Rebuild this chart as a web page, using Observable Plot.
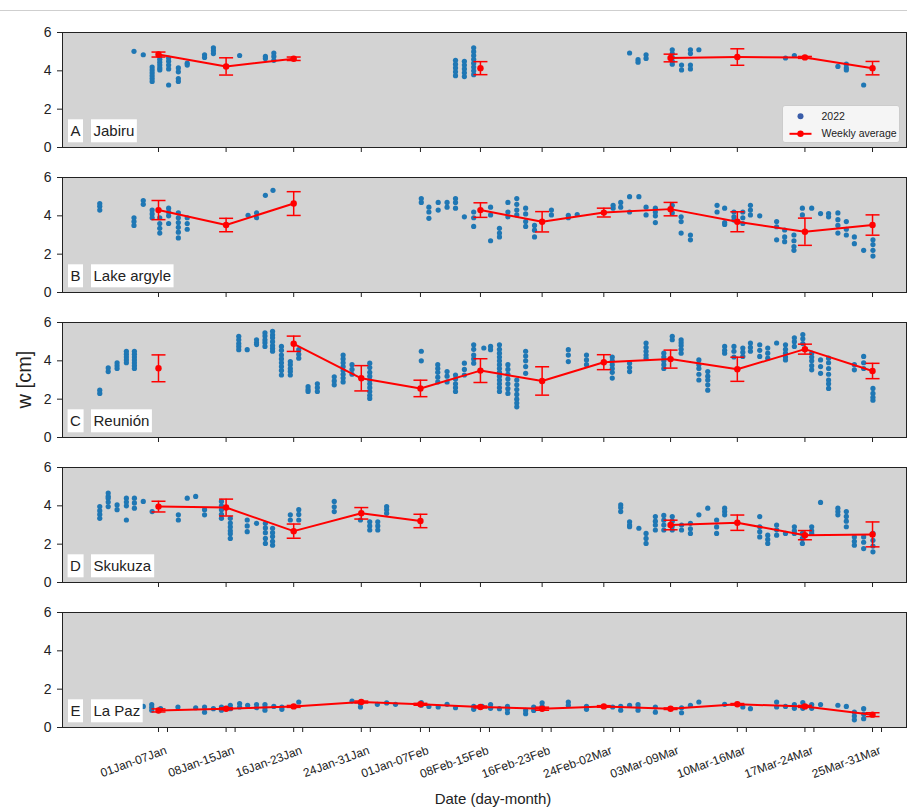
<!DOCTYPE html>
<html><head><meta charset="utf-8">
<script src="https://cdn.jsdelivr.net/npm/d3@7"></script>
<script src="https://cdn.jsdelivr.net/npm/@observablehq/plot@0.6"></script>
<style>
body{margin:0;background:#fff;font-family:"Liberation Sans",Arial,sans-serif;}
#top{height:10px;border-bottom:1px solid #cfcfcf;}
#chart svg{display:block;}
</style></head><body>
<div id="top"></div>
<div id="chart"></div>
<script>
// ---- data ----
const sites = ["Jabiru", "Lake argyle", "Reunión", "Skukuza", "La Paz"];
const letters = ["A", "B", "C", "D", "E"];
const weekLabels = ["01Jan-07Jan", "08Jan-15Jan", "16Jan-23Jan", "24Jan-31Jan", "01Jan-07Feb", "08Feb-15Feb",
  "16Feb-23Feb", "24Feb-02Mar", "03Mar-09Mar", "10Mar-16Mar", "17Mar-24Mar", "25Mar-31Mar"];
// day of year (position of each weekly tick)
const weekDays = [7, 15, 23, 31, 38, 45.1, 52.4, 59.7, 67.6, 75.5, 83.5, 91.5];
const yTicks = [0, 2, 4, 6];

// scatter: [day, [w values]]
const scatterJabiru = [[4.1,[5.02]],[5.2,[4.84]],[6.25,[4.2,4.05,3.9,3.75,3.6,3.45]],[7.15,[4.75,4.6,4.45,4.3,4.15,4.05]],
  [8.2,[4.67,4.5,4.3,4.1,3.26]],[9.35,[4.15,3.95,3.6,3.45]],[10.4,[4.4,4.3]],[12.45,[4.84,4.7]],[13.5,[5.2,5.05,4.9]],
  [16.6,[4.8]],[19.65,[4.75,4.65]],[20.65,[4.93,4.75,4.55]],[42.15,[4.55,4.35,4.15,3.95,3.75]],[43.2,[4.5,4.3,4.1,3.9,3.7]],
  [44.3,[5.2,5.0,4.8,4.6,4.4,4.2,4.0,3.8]],[62.75,[4.93]],[63.75,[4.58,4.45]],[64.7,[4.84,4.65]],[67.8,[5.1,4.9,4.7,4.5,4.35]],
  [68.9,[4.3,4.05]],[69.95,[5.1,4.9,4.3,4.1]],[70.95,[5.1]],[81.2,[4.67]],[82.25,[4.8]],[87.4,[4.23]],[88.4,[4.35,4.15,4.05]],[90.45,[3.26]]];
const scatterLakeArgyle = [[0.05,[4.64,4.5,4.3]],[4.1,[3.9,3.7,3.5]],[5.2,[4.8,4.6]],[6.25,[4.3,4.1,3.9]],[7.15,[3.9,3.6,3.35,3.1]],
  [8.2,[4.4,4.2,4.0,3.6]],[9.35,[4.15,3.9,3.65,3.4,3.15,2.85]],[10.4,[3.9,3.6,3.3]],[17.6,[4.03]],[18.6,[4.15,3.9]],[19.65,[5.07]],
  [20.55,[5.33]],[38.1,[4.9,4.7]],[39.0,[4.45,4.2,3.87]],[40.1,[4.7,4.3]],[41.15,[4.7,4.45]],[42.15,[4.9,4.7,4.4]],[43.2,[3.95]],
  [44.3,[4.2,3.9,3.45]],[46.3,[4.45,4.05,2.7]],[47.35,[3.35,3.1,2.9]],[48.35,[4.7,4.2,3.95]],[49.4,[4.9,4.6,4.3,4.05]],
  [50.45,[4.4,4.1,3.7,3.45]],[51.5,[3.5,3.25,2.9]],[53.5,[4.3,4.05]],[55.5,[4.03,3.9]],[56.55,[4.07]],[60.8,[4.55,4.4]],
  [61.7,[4.7,4.45]],[62.75,[5.0,4.2]],[63.85,[5.0]],[64.7,[4.45,4.05]],[65.8,[4.4,4.2,4.0,3.65]],[67.8,[4.55,4.15]],
  [68.85,[3.95,3.7,3.1]],[69.95,[3.0,2.75]],[73.1,[4.55,4.2]],[74.0,[4.4,3.65,3.55]],[75.1,[4.2,3.95,3.78]],[76.15,[4.2,3.9,3.6]],
  [77.05,[4.55,4.3,4.05]],[78.15,[4.0]],[80.15,[3.7,3.43,2.75]],[81.1,[3.26,2.9,2.65]],[82.2,[3.0,2.7,2.4,2.2]],[83.2,[4.4,4.05]],
  [84.3,[4.4]],[85.35,[4.12]],[86.3,[4.12,3.95]],[87.4,[4.15,3.8,3.5,3.1]],[88.4,[3.7,3.3,3.0]],[89.35,[2.9,2.55]],[90.45,[2.2]],
  [91.55,[2.75,2.5,2.2,1.9]]];
const scatterReunion = [[0.05,[2.47,2.3]],[1.05,[3.63,3.44]],[2.1,[3.9,3.75,3.6]],[3.2,[4.5,4.35,4.2,4.05,3.9]],
  [4.15,[4.5,4.35,4.2,4.05,3.9,3.75,3.6]],[16.5,[5.28,5.1,4.9,4.75,4.58]],[17.5,[4.58]],[18.6,[5.1,4.95,4.85]],
  [19.6,[5.46,5.3,5.1,4.95,4.75]],[20.5,[5.54,5.35,5.2,5.0,4.8,4.65,4.5]],[21.55,[4.75,4.55,4.3,4.1,3.9,3.7,3.5,3.26]],
  [22.6,[3.96,3.8,3.6,3.45,3.26]],[23.6,[4.58,4.35,4.14]],[24.7,[2.65,2.5,2.4]],[25.8,[2.8,2.6,2.4]],[27.8,[3.17,2.95,2.75]],
  [28.85,[4.3,4.1,3.9,3.7,3.5,3.3,3.1,2.9]],[29.9,[3.8,3.55,3.3]],[32.0,[3.88,3.65,3.4,3.2,3.0,2.8,2.6,2.4,2.2,2.04]],
  [38.1,[4.5,4.0]],[40.05,[3.8,3.6,3.4,3.15,2.9]],[41.15,[3.44,3.2,2.9]],[42.15,[3.26,3.05,2.8,2.6,2.4]],[43.2,[3.88,3.55,3.26]],
  [44.3,[4.84,4.6,4.3,4.1,3.88]],[45.5,[4.67]],[46.3,[4.75,4.58]],[47.35,[4.84,4.6,4.4,4.2,4.0,3.8,3.6,3.4,3.2,3.0,2.8,2.6,2.4]],
  [48.35,[3.8,3.55,3.3,3.05,2.8,2.55,2.3]],[49.4,[3.0,2.75,2.5,2.25,2.0,1.8,1.6]],[50.45,[4.5,4.25,4.0,3.7,3.35]],
  [55.5,[4.58,4.3,3.96]],[57.65,[4.3,4.05,3.8]],[60.7,[4.2,4.0,3.8,3.6,3.4,3.1]],[62.75,[3.88,3.65,3.44]],
  [64.7,[4.93,4.7,4.5,4.3,4.14]],[66.8,[4.4,4.2,4.0,3.8,3.6]],[67.8,[5.28,5.1]],[68.85,[5.1,4.95,4.8,4.6,4.4]],
  [70.95,[4.05,3.8,3.6,3.3,3.0]],[72.0,[3.44,3.2,3.0,2.75,2.47]],[74.0,[4.75,4.55,4.4]],[75.1,[4.75,4.5,4.2]],
  [76.15,[4.67,4.45,4.23]],[77.05,[4.93,4.7,4.5]],[78.15,[4.84,4.55,4.23]],[79.1,[4.67,4.4,4.14]],[80.15,[4.93]],
  [81.2,[4.84,4.6,4.4,4.2,4.05]],[82.25,[5.2,5.0,4.75]],[83.25,[5.37,5.15,4.9]],[84.3,[4.4,4.2,4.0,3.75,3.53]],
  [85.35,[4.05,3.7,3.35]],[86.3,[4.14,3.9,3.6,3.3,3.0,2.8,2.56]],[89.35,[3.8,3.53]],[90.45,[4.23,3.9,3.6]],[91.55,[2.56,2.3,2.1,1.95]]];
const scatterSkukuza = [[0.05,[3.96,3.75,3.55,3.35]],[1.05,[4.67,4.5,4.4,4.2,3.96]],[2.1,[4.05,3.8]],[3.2,[4.4,4.2,4.0,3.26]],
  [4.15,[4.4,4.15,3.88]],[5.2,[4.23]],[6.25,[3.7]],[9.35,[3.53,3.26]],[10.4,[4.4]],[11.4,[4.49]],[12.45,[3.8,3.53]],
  [14.45,[4.23,4.0,3.8,3.55,3.35]],[15.5,[3.35,3.1,2.9,2.7,2.55,2.3]],[17.5,[3.26,2.95,2.65]],[18.6,[3.09]],
  [19.65,[3.09,2.85,2.6,2.3,2.04]],[20.5,[2.83,2.6,2.4,2.15,1.95]],[22.6,[3.53,3.26]],[23.6,[3.8,3.55,3.26]],
  [27.8,[4.23,3.95,3.7]],[30.9,[3.26]],[32.0,[3.17,2.95,2.74]],[32.95,[3.17,2.95,2.74]],[34.0,[3.96,3.8,3.61]],
  [61.7,[4.05,3.9,3.7]],[62.75,[3.17,3.0,2.91]],[63.85,[2.83]],[64.7,[2.56,2.3,2.04]],[65.8,[3.44,3.2,3.0,2.74]],
  [66.8,[3.5,3.25,3.0,2.74]],[67.8,[3.44,3.2,2.95,2.74]],[68.9,[3.0,2.74]],[69.95,[3.09,2.8,2.56]],[70.95,[3.53]],[72.0,[3.88]],
  [73.05,[3.26,2.9,2.56]],[74.0,[3.88,3.7,3.53]],[78.15,[3.44,2.91,2.65,2.38]],[79.1,[2.47,2.25,2.04]],[80.15,[3.0,2.75,2.47]],
  [81.2,[2.56]],[82.25,[2.91,2.7,2.56]],[83.2,[2.56,2.3,2.04]],[84.3,[2.91,2.7,2.56]],[85.35,[4.18]],[87.4,[3.88,3.7,3.53]],
  [88.4,[3.7,3.45,3.2,2.91]],[89.35,[2.38,2.15,1.95]],[90.45,[2.38,2.1,1.77]],[91.55,[2.56,2.2,1.9,1.6]]];
const scatterLaPaz = [[5.2,[1.1]],[6.2,[1.2,1.05,0.9]],[7.25,[0.98]],[9.3,[1.07]],[11.4,[1.03]],[12.45,[1.07,0.8]],[13.5,[0.98]],
  [14.45,[1.07,0.9]],[15.5,[1.16,0.98]],[16.6,[1.25,1.07]],[17.55,[1.16]],[18.6,[1.2,1.03]],[19.6,[1.2,1.05,0.9]],[20.65,[1.1]],
  [21.6,[1.07,0.95]],[23.6,[1.33]],[29.9,[1.38]],[30.9,[1.25,1.07]],[32.9,[1.21]],[34.0,[1.28]],[35.05,[1.21]],[38.1,[1.3,1.16]],
  [39.0,[1.1]],[40.1,[1.07]],[41.15,[1.21]],[42.15,[1.03]],[44.3,[1.1,0.95]],[45.3,[1.1]],[46.3,[1.2,1.0]],[47.35,[0.98]],
  [48.3,[1.1,0.95,0.77]],[50.45,[0.89,0.72]],[51.4,[1.07,0.89]],[52.4,[1.29,1.1,0.98]],[55.5,[1.33,1.16]],[57.65,[1.1,0.95]],
  [60.75,[1.07]],[61.7,[1.1,0.9]],[62.75,[1.16]],[63.75,[1.2,1.05,0.9]],[65.8,[1.07,0.8]],[68.9,[1.03,0.77]],[69.95,[1.16]],
  [70.95,[1.33]],[74.0,[1.21]],[76.15,[1.07]],[77.05,[0.98]],[80.15,[1.33,1.07]],[81.2,[1.1]],[82.25,[1.2,1.0]],[83.25,[1.3,1.0]],
  [84.3,[1.2,1.0]],[85.35,[1.2]],[87.4,[1.16]],[88.4,[1.1]],[89.35,[0.8,0.6,0.4]],[90.45,[0.98,0.7,0.46]]];

// weekly averages and standard deviations (null = no data that week)
const meanJabiru = [4.85, 4.23, 4.63, null, null, 4.14, null, null, 4.67, 4.72, 4.70, 4.14];
const sdJabiru   = [0.13, 0.45, 0.09, null, null, 0.34, null, null, 0.20, 0.43, 0.05, 0.35];
const meanLakeArgyle = [4.30, 3.52, 4.64, null, null, 4.30, 3.69, 4.17, 4.35, 3.69, 3.17, 3.52];
const sdLakeArgyle   = [0.50, 0.35, 0.62, null, null, 0.38, 0.53, 0.23, 0.35, 0.52, 0.71, 0.53];
const meanReunion = [3.61, null, 4.89, 3.09, 2.56, 3.49, 2.95, 3.93, 4.09, 3.56, 4.61, 3.47];
const sdReunion   = [0.70, null, 0.40, 0.66, 0.43, 0.62, 0.74, 0.39, 0.47, 0.63, 0.26, 0.40];
const meanSkukuza = [3.96, 3.91, 2.68, 3.61, 3.21, null, null, null, 3.00, 3.12, 2.47, 2.51];
const sdSkukuza   = [0.28, 0.44, 0.37, 0.30, 0.35, null, null, null, 0.25, 0.40, 0.24, 0.65];
const meanLaPaz = [0.89, 0.98, 1.10, 1.33, 1.21, 1.07, 0.98, 1.10, 0.98, 1.21, 1.10, 0.67];
const sdLaPaz   = [0.08, 0.05, 0.05, 0.05, 0.05, 0.05, 0.08, 0.04, 0.04, 0.04, 0.05, 0.10];

// ---- tables ----
const scatterBySite = [scatterJabiru, scatterLakeArgyle, scatterReunion, scatterSkukuza, scatterLaPaz];
const meanBySite = [meanJabiru, meanLakeArgyle, meanReunion, meanSkukuza, meanLaPaz];
const sdBySite = [sdJabiru, sdLakeArgyle, sdReunion, sdSkukuza, sdLaPaz];

const points = sites.flatMap((site, s) =>
  scatterBySite[s].flatMap(([day, ws]) => ws.map(w => ({site, day, w}))));
const weekly = sites.flatMap((site, s) =>
  weekDays.map((day, i) => ({site, day, mean: meanBySite[s][i], sd: sdBySite[s][i]})));
const weeklyDefined = weekly.filter(d => d.mean != null);
const labelRows = sites.map((site, i) => ({site, letter: letters[i]}));
const labelOf = new Map(weekDays.map((d, i) => [d, weekLabels[i]]));

const cap = {draw(ctx, size) { const r = Math.sqrt(size / Math.PI); ctx.moveTo(-r, 0); ctx.lineTo(r, 0); }};

const W = 907, H = 798, mT = 21, mB = 82, mL = 62, mR = 1;
const chart = Plot.plot({
  width: W, height: H,
  marginTop: mT, marginBottom: mB, marginLeft: mL, marginRight: mR,
  style: {fontFamily: "'Liberation Sans', Arial, sans-serif", fontSize: "12px", color: "#222", background: "white"},
  x: {domain: [-4.36, 95.52]},
  y: {domain: [0, 6]},
  fy: {domain: sites, paddingInner: 0.207, paddingOuter: 0, axis: null, label: null},
  marks: [
    Plot.frame({fill: "#d3d3d3", stroke: "#222", ariaDescription: "frame"}),
    Plot.dot(points, {x: "day", y: "w", fy: "site", r: 2.6, fill: "#1f77b4"}),
    Plot.line(weekly, {x: "day", y: "mean", fy: "site", z: "site", stroke: "red", strokeWidth: 2}),
    Plot.ruleX(weeklyDefined, {x: "day", y1: d => d.mean - d.sd, y2: d => d.mean + d.sd, fy: "site", stroke: "red", strokeWidth: 1.5}),
    Plot.dot(weeklyDefined, {x: "day", y: d => d.mean + d.sd, fy: "site", symbol: cap, r: 7, stroke: "red", strokeWidth: 1.5, fill: "none"}),
    Plot.dot(weeklyDefined, {x: "day", y: d => d.mean - d.sd, fy: "site", symbol: cap, r: 7, stroke: "red", strokeWidth: 1.5, fill: "none"}),
    Plot.dot(weeklyDefined, {x: "day", y: "mean", fy: "site", r: 3.2, fill: "red"}),
    Plot.axisY({ticks: yTicks, tickFormat: d => String(d), tickSize: 5, tickPadding: 6, fontSize: 14, label: null}),
    Plot.axisX({ticks: weekDays, tickSize: 5, facetAnchor: null, fill: "none", label: null}),
    Plot.axisX({ticks: weekDays, tickSize: 5, tickPadding: 21, tickRotate: -20, textAnchor: "end", lineAnchor: "bottom",
      dx: 9, tickFormat: d => labelOf.get(d), fontSize: 12, label: null}),
    Plot.text(labelRows, {fy: "site", text: "letter", frameAnchor: "bottom-left", dx: 13, dy: -16,
      textAnchor: "middle", lineAnchor: "middle", fontSize: 15, fill: "#222", ariaDescription: "panel-label"}),
    Plot.text(labelRows, {fy: "site", text: "site", frameAnchor: "bottom-left", dx: 31, dy: -16,
      textAnchor: "start", lineAnchor: "middle", fontSize: 15, fill: "#222", ariaDescription: "panel-label"})
  ]
});
document.getElementById("chart").append(chart);

const svg = d3.select(chart);
// white boxes behind the panel labels
svg.selectAll('[aria-description="panel-label"] text').each(function() {
  const b = this.getBBox();
  const cy = b.y + b.height / 2;
  const node = this;
  d3.select(this.parentNode).insert("rect", () => node)
    .attr("transform", this.getAttribute("transform"))
    .attr("x", b.x - 2.5).attr("y", cy - 11.5)
    .attr("width", b.width + 5).attr("height", 23).attr("fill", "white");
});

// legend inside panel A
const sr = chart.getBoundingClientRect();
const fr = chart.querySelector('[aria-description="frame"] rect').getBoundingClientRect();
const R = fr.right - sr.left, B = fr.bottom - sr.top;
const lg = svg.append("g").attr("font-family", "'Liberation Sans', Arial, sans-serif").attr("font-size", 10.5)
  .attr("fill", "#222").attr("text-anchor", "start");
lg.append("rect").attr("x", R - 124).attr("y", B - 42).attr("width", 117).attr("height", 37).attr("rx", 2.5)
  .attr("fill", "#fafafa").attr("fill-opacity", 0.85).attr("stroke", "#cccccc");
lg.append("circle").attr("cx", R - 106).attr("cy", B - 31.3).attr("r", 3).attr("fill", "#3a5da9");
lg.append("text").attr("x", R - 85).attr("y", B - 31.3).attr("dy", "0.35em").text("2022");
lg.append("line").attr("x1", R - 117).attr("x2", R - 95).attr("y1", B - 13.7).attr("y2", B - 13.7).attr("stroke", "red").attr("stroke-width", 2);
lg.append("circle").attr("cx", R - 106).attr("cy", B - 13.7).attr("r", 3.2).attr("fill", "red");
lg.append("text").attr("x", R - 85).attr("y", B - 13.7).attr("dy", "0.35em").text("Weekly average");

// shared axis titles
svg.append("text").attr("transform", `translate(24,${(mT + H - mB) / 2}) rotate(-90)`)
  .attr("text-anchor", "middle").attr("dy", "0.35em").attr("font-size", 20).attr("fill", "#222").text("w [cm]");
svg.append("text").attr("x", 493).attr("y", H - 5).attr("text-anchor", "middle")
  .attr("font-size", 15).attr("fill", "#222").text("Date (day-month)");
</script>
</body></html>
